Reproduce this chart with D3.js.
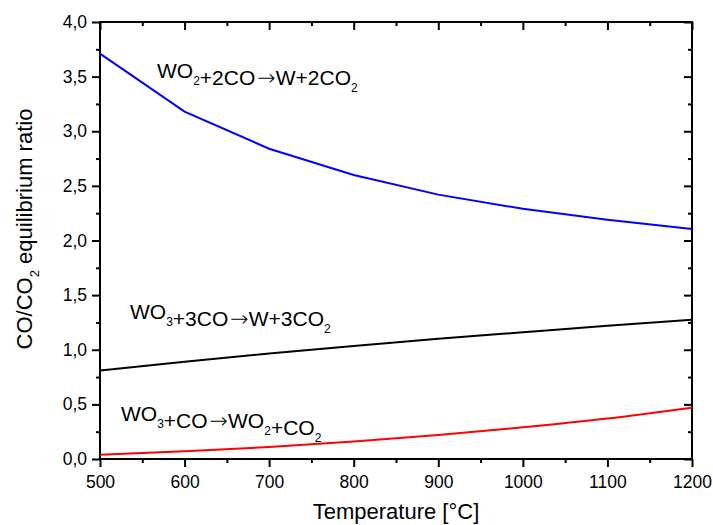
<!DOCTYPE html>
<html>
<head>
<meta charset="utf-8">
<script src="https://cdn.jsdelivr.net/npm/d3@7"></script>
<style>
  html, body { margin: 0; padding: 0; background: #fff; }
  text { font-family: "Liberation Sans", Arial, sans-serif; fill: #000; }
</style>
</head>
<body>
<div id="chart"></div>
<script>
// temperatures (°C) and CO/CO2 equilibrium ratios
const temps      = [500, 600, 700, 800, 900, 1000, 1100, 1200];
const wo2ToW     = [3.71, 3.18, 2.84, 2.60, 2.42, 2.29, 2.19, 2.105];
const wo3ToW     = [0.81, 0.89, 0.965, 1.035, 1.10, 1.16, 1.22, 1.275];
const wo3ToWo2   = [0.04, 0.07, 0.11, 0.16, 0.22, 0.29, 0.37, 0.47];
const xTicks     = [500, 600, 700, 800, 900, 1000, 1100, 1200];
const yTicks     = [0, 0.5, 1, 1.5, 2, 2.5, 3, 3.5, 4];

const W = 713, H = 525;
const margin = { top: 22, right: 21, bottom: 66, left: 100 };
const width  = W - margin.left - margin.right;
const height = H - margin.top - margin.bottom;

const svg = d3.select("#chart").append("svg")
  .attr("width", W).attr("height", H);
const g = svg.append("g")
  .attr("transform", `translate(${margin.left},${margin.top})`);

const x = d3.scaleLinear().domain([500, 1200]).range([0, width]);
const y = d3.scaleLinear().domain([0, 4]).range([height, 0]);

const fmt = d => d3.format(".1f")(d).replace(".", ",");
const xMinor = d3.range(550, 1200, 100);
const yMinor = d3.range(0.25, 4, 0.5);

function styleAxis(sel) {
  sel.select(".domain").remove();
  sel.selectAll("line").attr("stroke", "#000").attr("stroke-width", 2);
  sel.selectAll("text").style("font-size", "17.5px");
}

// bottom axis: outward ticks
g.append("g").attr("transform", `translate(0,${height})`)
  .call(d3.axisBottom(x).tickValues(xTicks).tickSize(8).tickPadding(9).tickFormat(d3.format("d")))
  .call(styleAxis);
g.append("g").attr("transform", `translate(0,${height})`)
  .call(d3.axisBottom(x).tickValues(xMinor).tickSize(4).tickFormat(""))
  .call(styleAxis);

// left axis: outward ticks
g.append("g")
  .call(d3.axisLeft(y).tickValues(yTicks).tickSize(8).tickPadding(5).tickFormat(fmt))
  .call(styleAxis);
g.append("g")
  .call(d3.axisLeft(y).tickValues(yMinor).tickSize(4).tickFormat(""))
  .call(styleAxis);

// top & right axes: inward ticks, no labels
g.append("g")
  .call(d3.axisTop(x).tickValues(xTicks).tickSize(-8).tickFormat(""))
  .call(styleAxis);
g.append("g")
  .call(d3.axisTop(x).tickValues(xMinor).tickSize(-4).tickFormat(""))
  .call(styleAxis);
g.append("g").attr("transform", `translate(${width},0)`)
  .call(d3.axisRight(y).tickValues(yTicks).tickSize(-8).tickFormat(""))
  .call(styleAxis);
g.append("g").attr("transform", `translate(${width},0)`)
  .call(d3.axisRight(y).tickValues(yMinor).tickSize(-4).tickFormat(""))
  .call(styleAxis);

// frame
g.append("rect")
  .attr("width", width).attr("height", height)
  .attr("fill", "none").attr("stroke", "#000").attr("stroke-width", 2);

// lines
const series = [
  { vals: wo2ToW,   color: "#0000ff", curve: d3.curveLinear },
  { vals: wo3ToW,   color: "#000000", curve: d3.curveMonotoneX },
  { vals: wo3ToWo2, color: "#ff0000", curve: d3.curveMonotoneX },
];
series.forEach(s => {
  const line = d3.line()
    .x((d, i) => x(temps[i]))
    .y(d => y(d))
    .curve(s.curve);
  g.append("path")
    .attr("d", line(s.vals))
    .attr("fill", "none")
    .attr("stroke", s.color)
    .attr("stroke-width", 2);
});

// reaction labels: pieces are plain text, "_x" subscripts, or "->" arrow
function reaction(px, py, parts) {
  const t = svg.append("text")
    .attr("x", px).attr("y", py)
    .style("font-size", "21px");
  parts.forEach(p => {
    if (p.startsWith("_")) {
      t.append("tspan").attr("dy", 7).style("font-size", "12px").text(p.slice(1));
      t.append("tspan").attr("dy", -7).text("");
    } else if (p === "->") {
      t.append("tspan").attr("dx", 2)
        .style("font-family", "DejaVu Sans").style("font-size", "22px")
        .style("font-weight", 300)
        .text("→");
      t.append("tspan").attr("dx", 1).text("");
    } else {
      t.append("tspan").text(p);
    }
  });
}
reaction(157, 78, ["WO", "_2", "+2CO", "->", "W+2CO", "_2"]);
reaction(130, 319, ["WO", "_3", "+3CO", "->", "W+3CO", "_2"]);
reaction(121, 421, ["WO", "_3", "+CO", "->", "WO", "_2", "+CO", "_2"]);

// axis titles
svg.append("text")
  .attr("x", margin.left + width / 2).attr("y", 519)
  .attr("text-anchor", "middle")
  .style("font-size", "22px")
  .text("Temperature [°C]");

const yt = svg.append("text")
  .attr("transform", "translate(32,229) rotate(-90)")
  .attr("text-anchor", "middle")
  .style("font-size", "22px");
yt.append("tspan").text("CO/CO");
yt.append("tspan").attr("dy", 7).style("font-size", "13px").text("2");
yt.append("tspan").attr("dy", -7).text(" equilibrium ratio");
</script>
</body>
</html>
